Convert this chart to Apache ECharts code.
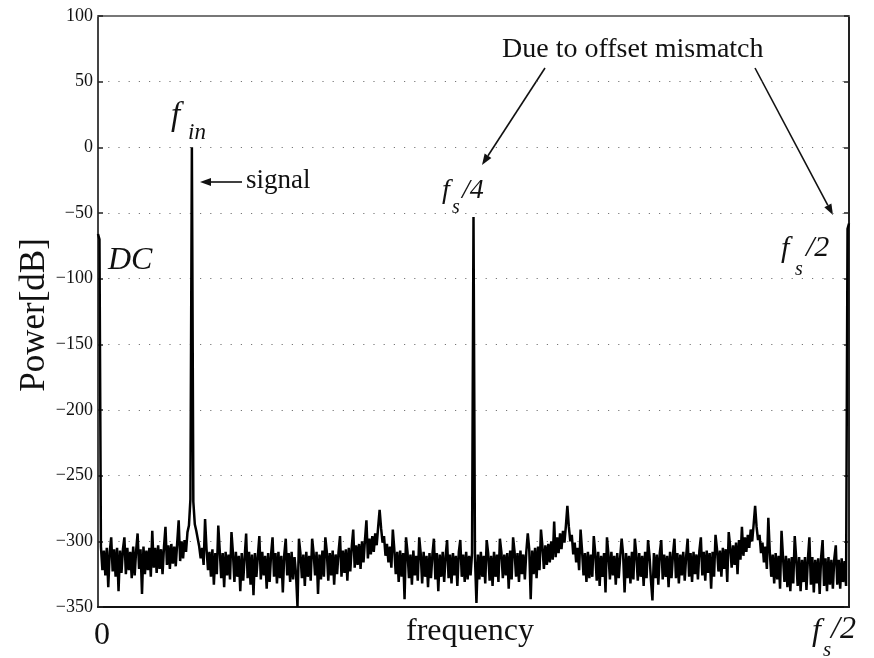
<!DOCTYPE html>
<html>
<head>
<meta charset="utf-8">
<script src="https://cdn.jsdelivr.net/npm/echarts@6/dist/echarts.min.js"></script>
<style>html,body{margin:0;padding:0;background:#fff}#c{width:874px;height:658px}</style>
</head>
<body>
<div id="c"></div>
<script>
// Power spectrum (dB) per FFT bin, bin 0 = DC, bin 512 = fs/2
const power = [
-66,-70,-304,-322,-307,-326,-305,-335,-308,
-297,-323,-306,-327,-305,-338,-307,-324,-306,
-297,-325,-305,-322,-308,-328,-304,-326,-307,
-294,-321,-306,-340,-304,-325,-307,-322,-305,-327,
-292,-320,-305,-324,-303,-321,-306,-325,-304,
-289,-318,-303,-321,-302,-317,-304,-319,-301,
-284,-315,-300,-313,-299,-308,-293,-288,-268,
0,-270,-287,-292,-298,-304,-313,-305,-318,
-283,-306,-322,-308,-327,-306,-333,-309,-325,
-288,-307,-328,-309,-335,-308,-326,-310,-329,
-293,-309,-331,-308,-327,-311,-338,-309,-330,-312,
-294,-328,-308,-333,-310,-341,-309,-327,-311,
-296,-329,-308,-326,-311,-336,-309,-331,-310,
-297,-327,-309,-332,-308,-328,-311,-339,-310,
-298,-326,-309,-331,-308,-329,-312,-325,-350,
-298,-309,-328,-310,-334,-308,-327,-311,-330,
-298,-309,-326,-308,-340,-310,-329,-307,-327,
-297,-308,-330,-309,-326,-307,-333,-310,-325,-308,
-296,-327,-307,-324,-306,-330,-305,-323,-304,
-291,-320,-303,-318,-302,-321,-300,-316,-299,
-284,-313,-298,-310,-296,-308,-294,-303,-289,
-276,-290,-301,-296,-311,-302,-316,-304,-320,
-291,-306,-325,-308,-331,-307,-327,-309,-344,
-297,-308,-328,-310,-333,-307,-326,-311,-330,
-297,-309,-332,-308,-327,-311,-335,-309,-328,-310,
-298,-329,-309,-338,-310,-327,-308,-331,-311,
-299,-328,-310,-332,-309,-326,-311,-334,-308,
-299,-327,-310,-331,-308,-329,-311,-326,-309,
-53,-312,-347,-310,-329,-308,-327,-311,-332,
-299,-309,-330,-311,-334,-308,-327,-310,-331,
-298,-308,-328,-310,-326,-309,-336,-307,-329,
-297,-308,-327,-309,-331,-307,-325,-310,-329,-308,
-294,-306,-344,-307,-325,-305,-328,-304,-322,
-291,-304,-321,-303,-318,-302,-316,-300,-314,
-285,-312,-297,-309,-294,-306,-292,-301,-288,
-273,-289,-300,-295,-310,-301,-316,-305,-322,
-291,-307,-326,-309,-331,-308,-328,-310,-327,
-296,-309,-330,-308,-334,-311,-327,-309,-339,
-297,-310,-329,-308,-326,-311,-333,-309,-328,-312,
-298,-310,-339,-309,-328,-311,-332,-308,-329,
-298,-310,-330,-309,-327,-311,-334,-308,-328,
-299,-311,-330,-345,-309,-328,-310,-333,-309,
-299,-329,-310,-327,-311,-335,-308,-328,-310,
-298,-328,-309,-332,-310,-326,-308,-330,-311,
-298,-327,-309,-331,-308,-325,-310,-329,-307,
-297,-326,-308,-330,-307,-324,-309,-336,-308,-327,
-295,-306,-323,-307,-327,-305,-321,-306,-331,
-293,-304,-320,-303,-318,-301,-325,-299,-314,
-289,-311,-297,-308,-295,-305,-291,-300,-287,
-273,-289,-299,-295,-309,-301,-316,-304,-321,
-282,-308,-327,-310,-332,-309,-329,-311,-336,
-292,-312,-331,-311,-335,-313,-338,-312,-332,
-296,-313,-334,-312,-338,-314,-331,-312,-337,-313,
-297,-333,-312,-339,-314,-332,-313,-340,-312,
-299,-334,-313,-338,-312,-333,-314,-336,-313,
-303,-333,-314,-336,-313,-331,-315,-334,
-62,-58
];
const yMin = -350, yMax = 100, yStep = 50;
const xLabels = ['0', 'frequency'];
const annotationTexts = ['Due to offset mismatch', 'signal', 'DC'];

const serif = '"Liberation Serif", "DejaVu Serif", serif';
const chart = echarts.init(document.getElementById('c'), null, {renderer: 'canvas'});

function txt(s, x, y, size, opts) {
  opts = opts || {};
  return {
    type: 'text', x: x, y: y, silent: true, rotation: opts.rotation || 0,
    style: {
      text: s, fill: '#111', fontFamily: serif, fontSize: size,
      fontStyle: opts.italic ? 'italic' : 'normal',
      align: opts.align || 'left', verticalAlign: 'middle'
    }
  };
}
function arrow(x1, y1, x2, y2) {
  const a = Math.atan2(y2 - y1, x2 - x1), L = 11, W = 4;
  const bx = x2 - L * Math.cos(a), by = y2 - L * Math.sin(a);
  const px = -Math.sin(a) * W, py = Math.cos(a) * W;
  return [
    {type: 'line', silent: true, shape: {x1: x1, y1: y1, x2: bx, y2: by}, style: {stroke: '#111', lineWidth: 1.6}},
    {type: 'polygon', silent: true, shape: {points: [[x2, y2], [bx + px, by + py], [bx - px, by - py]]}, style: {fill: '#111'}}
  ];
}

const graphics = [].concat(
  [txt('Power[dB]', 35, 315, 35, {align: 'center', rotation: Math.PI / 2})],
  [txt(xLabels[0], 102, 636, 32, {align: 'center'})],
  [txt(xLabels[1], 470, 632, 32, {align: 'center'})],
  // fs/2 axis label
  [txt('f', 812, 632, 32, {italic: true}), txt('s', 823, 650, 21, {italic: true}), txt('/2', 831, 630, 32, {italic: true})],
  // f_in
  [txt('f', 171, 116, 33, {italic: true}), txt('in', 188, 133, 23, {italic: true})],
  [txt(annotationTexts[1], 246, 181, 27)],
  arrow(242, 182, 200, 182),
  [txt(annotationTexts[2], 108, 261, 32, {italic: true})],
  // fs/4
  [txt('f', 442, 191, 28, {italic: true}), txt('s', 452, 208, 20, {italic: true}), txt('/4', 462, 191, 28, {italic: true})],
  // fs/2 peak
  [txt('f', 781, 249, 30, {italic: true}), txt('s', 795, 270, 20, {italic: true}), txt('/2', 806, 248, 30, {italic: true})],
  [txt(annotationTexts[0], 502, 50, 28)],
  arrow(545, 68, 482, 165),
  arrow(755, 68, 833, 215)
);

chart.setOption({
  animation: false,
  backgroundColor: '#fff',
  grid: {left: 98, right: 25, top: 16, bottom: 51, containLabel: false},
  xAxis: [
    {type: 'value', min: 0, max: power.length - 1, position: 'bottom',
     axisLine: {show: true, onZero: false, lineStyle: {color: '#111', width: 2}},
     axisTick: {show: false}, axisLabel: {show: false}, splitLine: {show: false}},
    {type: 'value', min: 0, max: power.length - 1, position: 'top',
     axisLine: {show: true, onZero: false, lineStyle: {color: '#777', width: 2}},
     axisTick: {show: false}, axisLabel: {show: false}, splitLine: {show: false}}
  ],
  yAxis: [
    {type: 'value', min: yMin, max: yMax, interval: yStep, position: 'left',
     axisLine: {show: true, onZero: false, lineStyle: {color: '#444', width: 2}},
     axisTick: {show: true, inside: true, length: 5, lineStyle: {color: '#222', width: 1.5}},
     axisLabel: {color: '#111', fontFamily: serif, fontSize: 18, margin: 5,
       formatter: v => String(v).replace('-', '\u2212')},
     splitLine: {show: true, lineStyle: {color: '#777', width: 1, type: [1.2, 9]}}},
    {type: 'value', min: yMin, max: yMax, interval: yStep, position: 'right',
     axisLine: {show: true, onZero: false, lineStyle: {color: '#222', width: 2}},
     axisTick: {show: true, inside: true, length: 5, lineStyle: {color: '#222', width: 1.5}},
     axisLabel: {show: false}, splitLine: {show: false}}
  ],
  series: [{
    type: 'line', xAxisIndex: 0, yAxisIndex: 0,
    data: power.map((v, i) => [i, v]),
    showSymbol: false, symbol: 'none', sampling: null,
    lineStyle: {color: '#000', width: 2.5},
    clip: true, z: 3
  }],
  graphic: graphics
});
</script>
</body>
</html>
